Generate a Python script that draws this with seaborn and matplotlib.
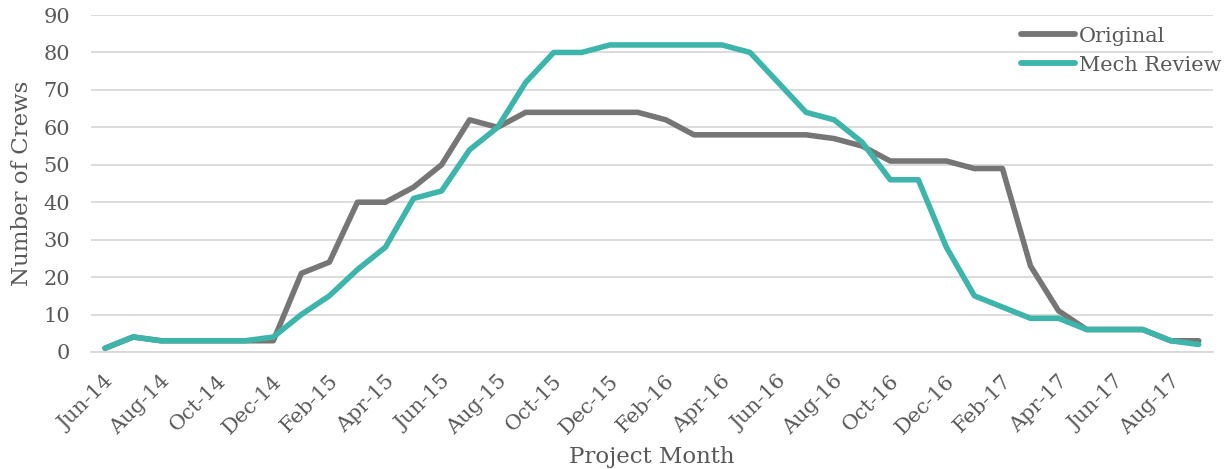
import numpy as np
import pandas as pd
import matplotlib
matplotlib.use("Agg")
import matplotlib.pyplot as plt
import matplotlib.transforms as mtransforms
import seaborn as sns

months = ["Jun-14", "Jul-14", "Aug-14", "Sep-14", "Oct-14", "Nov-14", "Dec-14",
          "Jan-15", "Feb-15", "Mar-15", "Apr-15", "May-15", "Jun-15", "Jul-15",
          "Aug-15", "Sep-15", "Oct-15", "Nov-15", "Dec-15", "Jan-16", "Feb-16",
          "Mar-16", "Apr-16", "May-16", "Jun-16", "Jul-16", "Aug-16", "Sep-16",
          "Oct-16", "Nov-16", "Dec-16", "Jan-17", "Feb-17", "Mar-17", "Apr-17",
          "May-17", "Jun-17", "Jul-17", "Aug-17", "Sep-17"]

original = [1, 4, 3, 3, 3, 3, 3, 21, 24, 40, 40, 44, 50, 62, 60, 64, 64, 64, 64, 64,
            62, 58, 58, 58, 58, 58, 57, 55, 51, 51, 51, 49, 49, 23, 11, 6, 6, 6, 3, 3]

mech_review = [1, 4, 3, 3, 3, 3, 4, 10, 15, 22, 28, 41, 43, 54, 60, 72, 80, 80, 82, 82,
               82, 82, 82, 80, 72, 64, 62, 56, 46, 46, 28, 15, 12, 9, 9, 6, 6, 6, 3, 2]

series_names = ["Original", "Mech Review"]
series_colors = ["#767676", "#3EB5AA"]

df = pd.DataFrame({
    "month_idx": list(range(len(months))) * 2,
    "crews": original + mech_review,
    "series": [series_names[0]] * len(months) + [series_names[1]] * len(months),
})

sns.set_theme(style="white")
plt.rcParams["font.family"] = ["DejaVu Serif"]
text_color = "#595959"
grid_color = "#D9D9D9"

fig = plt.figure(figsize=(12.25, 4.69), dpi=100)
ax = fig.add_axes([0.0743, 0.2495, 0.9157, 0.7185])

sns.lineplot(data=df, x="month_idx", y="crews", hue="series",
             palette=dict(zip(series_names, series_colors)),
             linewidth=4.0, ax=ax, legend=True)

ax.set_xlim(-0.5, len(months) - 0.5)
ax.set_ylim(0, 90)
ax.set_yticks(np.arange(0, 91, 10))
ax.yaxis.grid(True, color=grid_color, linewidth=1.3)
ax.xaxis.grid(False)

# category labels every other month, tick marks on the category boundaries
ax.set_xticks(np.arange(0, len(months), 2))
ax.set_xticklabels(months[::2], rotation=45, ha="right", rotation_mode="anchor")
ax.set_xticks(np.arange(-0.5, len(months), 2), minor=True)
ax.tick_params(axis="x", which="major", length=0, pad=14, labelsize=15, colors=text_color)
ax.tick_params(axis="x", which="minor", length=6, width=1.3, color=grid_color, direction="out")
ax.tick_params(axis="y", length=0, pad=15, labelsize=15, colors=text_color)

shift = mtransforms.ScaledTranslation(-0.01, 0, fig.dpi_scale_trans)
for lbl in ax.get_xticklabels():
    lbl.set_transform(lbl.get_transform() + shift)

for side in ["top", "right", "left"]:
    ax.spines[side].set_visible(False)
ax.spines["bottom"].set_color(grid_color)
ax.spines["bottom"].set_linewidth(1.3)

ax.set_xlabel("Project Month", fontsize=16.5, color=text_color)
ax.xaxis.set_label_coords(0.5, -0.28)
ax.set_ylabel("Number of Crews", fontsize=16.5, color=text_color)
ax.yaxis.set_label_coords(-0.052, 0.5)

leg = ax.legend(loc="upper right", frameon=False, fontsize=15, handlelength=2.6,
                handletextpad=0.2, labelspacing=0.48, borderaxespad=0.0,
                bbox_to_anchor=(1.0154, 0.99))
for t in leg.get_texts():
    t.set_color(text_color)
for h in leg.legend_handles:
    h.set_linewidth(4.2)
    h.set_solid_capstyle("round")

fig.savefig("out.png", dpi=100, facecolor="white")
